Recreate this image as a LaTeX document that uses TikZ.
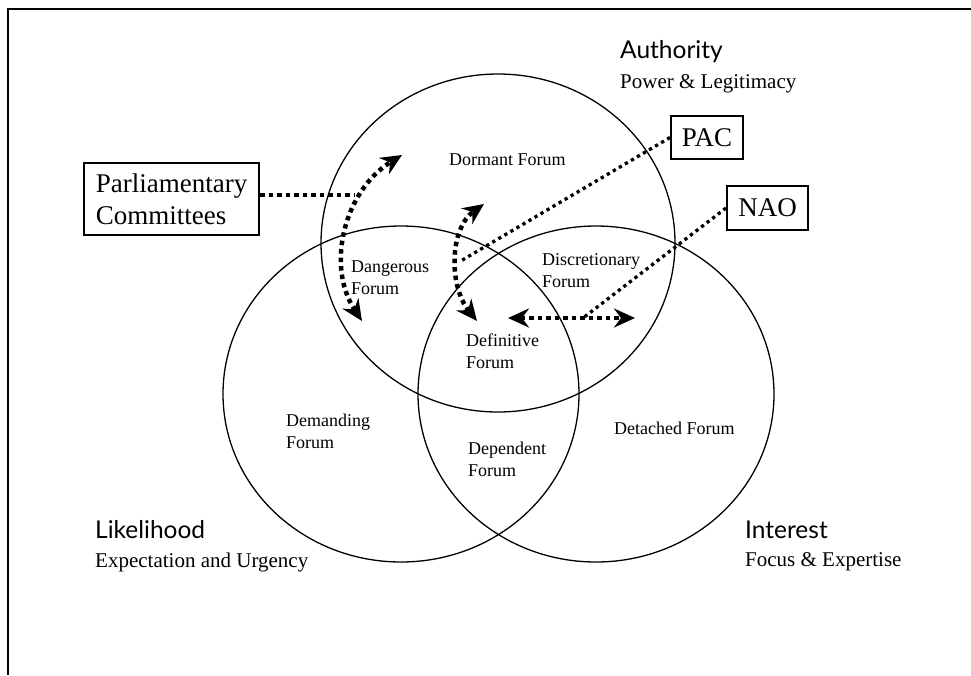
\documentclass[tikz,border=0pt]{standalone}
\usepackage{fontspec}
\setmainfont{Liberation Serif}
\newfontfamily\titlefont{Lato}
\usetikzlibrary{arrows.meta}
\tikzset{
  fhead/.tip={Stealth[length=21pt,width=19pt,inset=7pt]},
  venn/.style={line width=1.3pt},
  lbl/.style={font=\fontsize{18}{22}\selectfont, align=left, inner sep=0pt, anchor=west},
  ttl/.style={font=\titlefont\fontsize{24.5}{28}\selectfont, inner sep=0pt, anchor=west},
  sub/.style={font=\fontsize{21}{24}\selectfont, inner sep=0pt, anchor=west},
  bigbox/.style={draw, line width=2pt, font=\fontsize{27}{32}\selectfont, inner sep=0pt, align=left},
  bigdot/.style={line width=4.5pt, dash pattern=on 4.5pt off 4pt},
  smalldot/.style={line width=3.3pt, dash pattern=on 3.3pt off 3.7pt},
  frameline/.style={line width=2.5pt}
}
\begin{document}
\begin{tikzpicture}[x=1pt,y=-1pt]
\useasboundingbox (0,0) rectangle (971,675);
% frame
\coordinate (fbl) at (8,675);
\coordinate (ftl) at (8,9);
\coordinate (ftr) at (971,9);
\draw[frameline] (fbl) -- (ftl) -- (ftr);
% circles
\coordinate (authc) at (498,243);
\coordinate (likec) at (401,394);
\coordinate (intc) at (596,394);
\draw[venn] (authc) ellipse [x radius=177pt, y radius=169pt];
\draw[venn] (likec) ellipse [x radius=178pt, y radius=168pt];
\draw[venn] (intc) ellipse [x radius=178pt, y radius=168pt];
% titles
\node[ttl] (auth) at (620,52) {Authority};
\node[sub] (authsub) at (620,84) {Power \& Legitimacy};
\node[ttl] (like) at (95,530) {Likelihood};
\node[sub] (likesub) at (95,562) {Expectation and Urgency};
\node[ttl] (inter) at (745,530) {Interest};
\node[sub] (intersub) at (745,562) {Focus \& Expertise};
% forum labels
\node[lbl] (dormant) at (449,160) {Dormant Forum};
\node[lbl] (dangerous) at (351,278) {Dangerous\\Forum};
\node[lbl] (discr) at (542,271) {Discretionary\\Forum};
\node[lbl] (defin) at (466,351) {Definitive\\Forum};
\node[lbl] (demand) at (286,431) {Demanding\\Forum};
\node[lbl] (depend) at (468,459) {Dependent\\Forum};
\node[lbl] (detach) at (614,428) {Detached Forum};
% boxes
\node[bigbox, minimum width=175pt, minimum height=72pt] (pc) at (171.5,199) {Parliamentary\\Committees};
\node[bigbox, minimum width=72pt, minimum height=43pt, align=center] (pac) at (707,137.5) {PAC};
\node[bigbox, minimum width=81pt, minimum height=44pt, align=center] (nao) at (767.5,208) {NAO};
% arrows
\coordinate (c1b) at (362,321);
\coordinate (c1t) at (402,155);
\coordinate (c2b) at (477,321);
\coordinate (c2t) at (484,204);
\coordinate (hl) at (508,318);
\coordinate (hr) at (635,318);
\coordinate (pcj) at (355,195);
\coordinate (pacj) at (459,262);
\coordinate (naoj) at (583,318);
\draw[bigdot, fhead-fhead] (c1b) .. controls (325,265) and (345,190) .. (c1t);
\draw[bigdot, fhead-fhead] (c2b) .. controls (448,285) and (450,228) .. (c2t);
\draw[bigdot, fhead-fhead] (hl) -- (hr);
\draw[bigdot] (pc.east |- pcj) -- (pcj);
\draw[smalldot] (pac.west) -- (pacj);
\draw[smalldot] (nao.west) -- (naoj);
\end{tikzpicture}
\end{document}
